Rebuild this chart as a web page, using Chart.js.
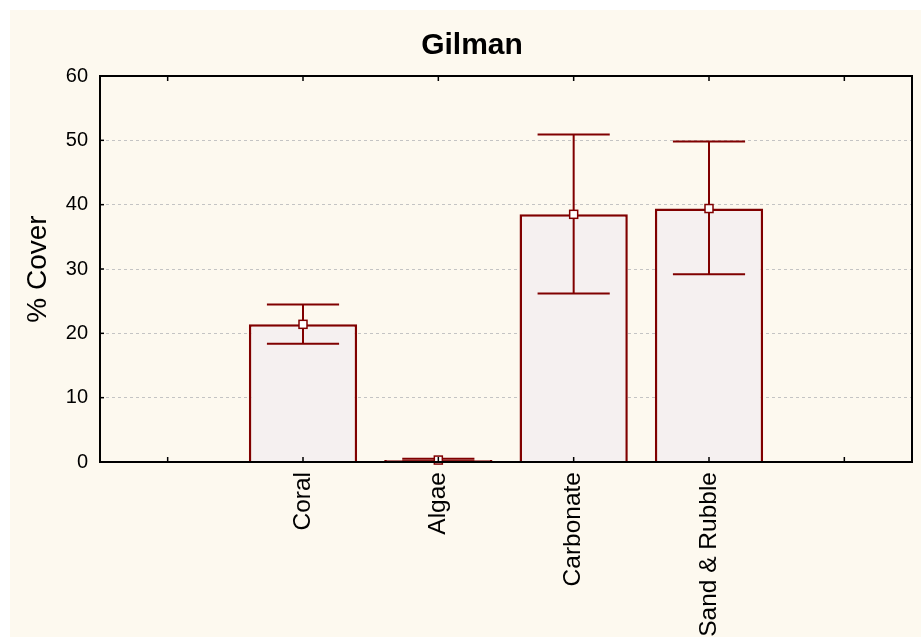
<!DOCTYPE html>
<html>
<head>
<meta charset="utf-8">
<title>Gilman</title>
<script src="https://cdn.jsdelivr.net/npm/chart.js@4/dist/chart.umd.min.js"></script>
<style>
  html, body { margin: 0; padding: 0; background: #ffffff; }
  #wrap { position: absolute; left: 10px; top: 10px; width: 911px; height: 627px; background: #fdf9ef; }
  canvas { display: block; }
</style>
</head>
<body>
<div id="wrap"><canvas id="c" width="911" height="627"></canvas></div>
<script>
// Cover categories (blank slots at both ends keep the outer ticks)
const categories = ['', 'Coral', 'Algae', 'Carbonate', 'Sand & Rubble', ''];
// Mean % cover per category
const meanCover = [null, 21.4, 0.3, 38.5, 39.4, null];
// Error bar limits
const lowerLimit = [null, 18.4, 0.1, 26.2, 29.2, null];
const upperLimit = [null, 24.5, 0.5, 50.9, 49.8, null];
// Y axis tick values
const yTicks = [0, 10, 20, 30, 40, 50, 60];

const DARK_RED = '#800000';
const FONT = "'Liberation Sans', Arial, sans-serif";

// Black frame around the plot with inward tick marks
const framePlugin = {
  id: 'frame',
  afterDatasetsDraw(chart) {
    const { ctx, chartArea: a, scales } = chart;
    ctx.save();
    ctx.strokeStyle = '#000';
    ctx.lineWidth = 1.5;
    // y ticks on the left axis
    scales.y.ticks.forEach((t, i) => {
      const y = scales.y.getPixelForTick(i);
      ctx.beginPath();
      ctx.moveTo(a.left, y);
      ctx.lineTo(a.left + 4, y);
      ctx.stroke();
    });
    // category ticks on top and bottom
    scales.x.ticks.forEach((t, i) => {
      const x = scales.x.getPixelForTick(i);
      ctx.beginPath();
      ctx.moveTo(x, a.top);
      ctx.lineTo(x, a.top + 5);
      ctx.moveTo(x, a.bottom);
      ctx.lineTo(x, a.bottom - 5);
      ctx.stroke();
    });
    ctx.lineWidth = 2;
    ctx.strokeRect(a.left, a.top, a.right - a.left, a.bottom - a.top);
    ctx.restore();
  }
};

// Whiskers and mean markers
const errorBarPlugin = {
  id: 'errorBars',
  afterDatasetsDraw(chart) {
    const { ctx, scales } = chart;
    const meta = chart.getDatasetMeta(0);
    ctx.save();
    meta.data.forEach((bar, i) => {
      if (meanCover[i] == null) return;
      const x = bar.x;
      const half = bar.width / 3;
      const yLo = scales.y.getPixelForValue(lowerLimit[i]);
      const yHi = scales.y.getPixelForValue(upperLimit[i]);
      const yM = scales.y.getPixelForValue(meanCover[i]);
      ctx.strokeStyle = DARK_RED;
      ctx.lineWidth = 2;
      ctx.beginPath();
      ctx.moveTo(x, yHi); ctx.lineTo(x, yLo);
      ctx.moveTo(x - half, yHi); ctx.lineTo(x + half, yHi);
      ctx.moveTo(x - half, yLo); ctx.lineTo(x + half, yLo);
      ctx.stroke();
      ctx.fillStyle = '#ffffff';
      ctx.lineWidth = 1.5;
      ctx.fillRect(x - 4, yM - 4, 8, 8);
      ctx.strokeRect(x - 4, yM - 4, 8, 8);
    });
    ctx.restore();
  }
};

new Chart(document.getElementById('c'), {
  type: 'bar',
  data: {
    labels: categories,
    datasets: [{
      data: meanCover,
      backgroundColor: '#f5f0f0',
      borderColor: DARK_RED,
      borderWidth: 2.5,
      categoryPercentage: 0.8,
      barPercentage: 1.0
    }]
  },
  options: {
    responsive: false,
    animation: false,
    layout: { padding: { left: 22, right: 9, top: 0, bottom: 0 } },
    plugins: {
      legend: { display: false },
      tooltip: { enabled: false },
      title: {
        display: true,
        text: 'Gilman',
        color: '#000',
        font: { family: FONT, size: 30, weight: 'bold', lineHeight: 1.2 },
        padding: { top: 18, bottom: 12 }
      }
    },
    scales: {
      x: {
        grid: { display: false, drawTicks: false },
        border: { display: false },
        ticks: {
          autoSkip: false,
          minRotation: 90,
          maxRotation: 90,
          padding: 10,
          color: '#000',
          font: { family: FONT, size: 24.5 }
        },
        afterFit(scale) { scale.height = 175; }
      },
      y: {
        min: 0,
        max: 60,
        afterBuildTicks(scale) { scale.ticks = yTicks.map(v => ({ value: v })); },
        grid: { color: '#c4c4c4', lineWidth: 1, drawTicks: false },
        border: { display: false, dash: [3, 3] },
        ticks: {
          padding: 12,
          color: '#000',
          font: { family: FONT, size: 20 }
        },
        title: {
          display: true,
          text: '% Cover',
          color: '#000',
          font: { family: FONT, size: 28, lineHeight: 0.43 },
          padding: 0
        },
        afterFit(scale) { scale.width = 68; }
      }
    }
  },
  plugins: [errorBarPlugin, framePlugin]
});
</script>
</body>
</html>
